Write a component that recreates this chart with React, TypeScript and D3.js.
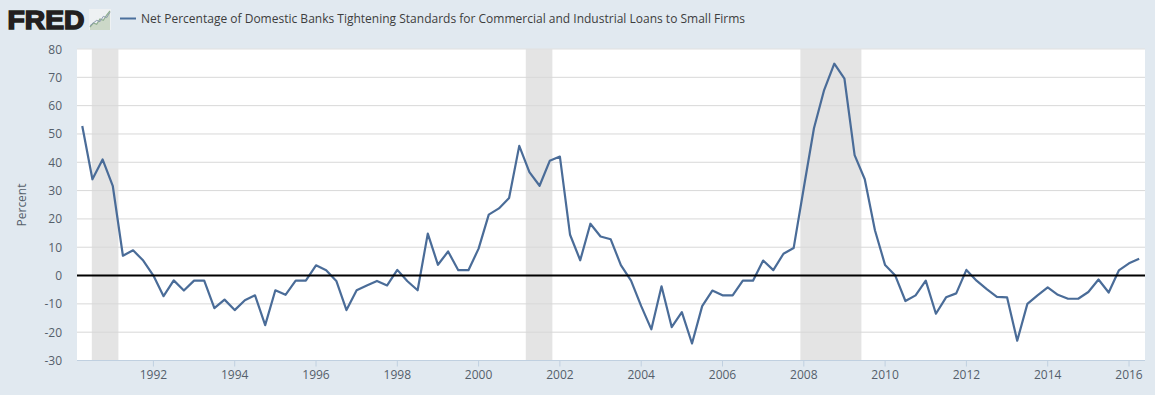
import React from "react";
import * as d3 from "d3";

const W = 1155, H = 395;
const title = "Net Percentage of Domestic Banks Tightening Standards for Commercial and Industrial Loans to Small Firms";
const startYear = 1990.25;
const values = [
  52.8, 34, 41, 31.7, 7, 8.9, 5.3, 0, -7.3, -1.7, -5.3, -1.8, -1.8, -11.5, -8.5, -12.2, -8.7, -7, -17.5,
  -5.2, -6.8, -1.8, -1.8, 3.6, 1.9, -1.9, -12.2, -5.2, -3.5, -1.9, -3.5, 2, -2, -5.2, 14.8, 3.8, 8.5, 1.9, 1.9,
  9.5, 21.5, 23.7, 27.4, 45.8, 36.5, 31.7, 40.5, 42, 14.4, 5.4, 18.3, 13.8, 12.8, 3.7, -1.8, -10.8, -19, -3.8,
  -18.2, -12.9, -24, -10.8, -5.3, -7, -7, -1.8, -1.8, 5.3, 1.9, 7.7, 9.7, 31, 52, 65.5, 74.8, 69.5, 42.5, 34,
  16, 3.7, 0, -9, -7, -1.8, -13.5, -7.7, -6.3, 2, -1.8, -4.8, -7.5, -7.7, -23, -10, -7, -4.2, -6.8, -8.2, -8.2,
  -5.8, -1.4, -6, 1.8, 4.3, 5.9,
];
const recessions: [number, number][] = [[1990.485, 1991.139], [2001.16, 2001.815], [2007.916, 2009.417]];
const yTicks = [80, 70, 60, 50, 40, 30, 20, 10, 0, -10, -20, -30];
const xTicks = [1992, 1994, 1996, 1998, 2000, 2002, 2004, 2006, 2008, 2010, 2012, 2014, 2016];
const logoLine = [0, 3, 2, 6, 5, 9, 12];
const logoLine2 = [1, 3, 5, 4, 8, 7, 11];

const L = 77, R = 1145, T = 49, B = 360.5;
const x = d3.scaleLinear().domain([1992, 2016]).range([153.4, 1129]);
const y = d3.scaleLinear().domain([-30, 80]).range([B, T]);
const line = d3.line<number>().x((_, i) => x(startYear + i * 0.25)).y((d) => y(d));
const logoX = d3.scaleLinear().domain([0, 6]).range([90, 110]);
const logoY = d3.scaleLinear().domain([0, 12]).range([27, 11]);
const logoPath = d3.line<number>().x((_, i) => logoX(i)).y((d) => logoY(d));
const logoArea = d3.area<number>().x((_, i) => logoX(i)).y0(30).y1((d) => logoY(d));
const font = "'Open Sans', sans-serif";

export default function App() {
  return (
    <svg width={W} height={H} viewBox={`0 0 ${W} ${H}`} style={{ position: "absolute", left: 0, top: 0, display: "block" }} fontFamily={font}>
      <rect width={W} height={H} fill="#e1e9f0" />
      <text x={7.5} y={28.7} fontFamily="'Liberation Sans', sans-serif" fontWeight={700} fontSize={26} fill="#231f20" stroke="#231f20" strokeWidth={1.5} textLength={77} lengthAdjust="spacingAndGlyphs">FRED</text>
      <rect x={89} y={9} width={22} height={21} fill="#eef1f3" />
      <path d={logoArea(logoLine) ?? ""} fill="#ccd8c8" />
      <path d={logoPath(logoLine) ?? ""} fill="none" stroke="#8fae8f" strokeWidth={1.2} />
      <path d={logoPath(logoLine2) ?? ""} fill="none" stroke="#8c9bb0" strokeWidth={1} />
      <line x1={120} x2={136} y1={18.5} y2={18.5} stroke="#4a6f9c" strokeWidth={2} />
      <text x={141} y={23} fontSize={12} fill="#3d3d3d" textLength={604}>{title}</text>

      <rect x={L} y={T} width={R - L} height={B - T} fill="#ffffff" />
      {recessions.map(([a, b]) => (
        <rect key={a} x={x(a)} y={T} width={x(b) - x(a)} height={B - T} fill="#e4e4e4" />
      ))}
      {yTicks.filter((t) => t !== 0 && t !== 80 && t !== -30).map((t) => (
        <line key={t} x1={L} x2={R} y1={y(t)} y2={y(t)} stroke="#d8d8d8" strokeWidth={1} />
      ))}
      <line x1={L} x2={R} y1={T} y2={T} stroke="#e0e0e0" />
      <line x1={L} x2={R} y1={B} y2={B} stroke="#c0d0e0" />
      {xTicks.map((t) => (
        <g key={t}>
          <line x1={x(t)} x2={x(t)} y1={B} y2={B + 6} stroke="#c0d0e0" />
          <text x={x(t)} y={379} textAnchor="middle" fontSize={12} fill="#555f6b">{t}</text>
        </g>
      ))}
      {yTicks.map((t) => (
        <text key={t} x={62} y={y(t) + 4.5} textAnchor="end" fontSize={12} fill="#555f6b">{t}</text>
      ))}
      <text transform="translate(25.5,205) rotate(-90)" textAnchor="middle" fontSize={12} fill="#555f6b">Percent</text>
      <path d={line(values) ?? ""} fill="none" stroke="#4a6c98" strokeWidth={2.2} strokeLinejoin="round" />
      <line x1={L} x2={R} y1={y(0)} y2={y(0)} stroke="#000000" strokeWidth={2} />
    </svg>
  );
}
